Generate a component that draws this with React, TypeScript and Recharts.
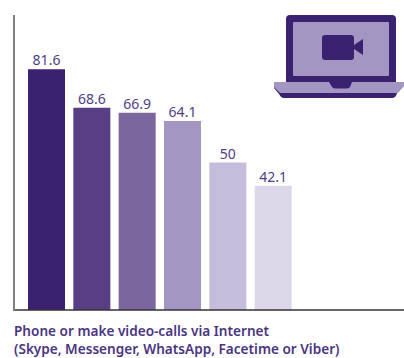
import React from "react"
import { BarChart, Bar, Cell, XAxis, YAxis, ReferenceLine, LabelList } from "recharts"

const categories = ["A", "B", "C", "D", "E", "F"]
const values = [81.6, 68.6, 66.9, 64.1, 50, 42.1]
const barColors = ["#3a2270", "#573e85", "#7b669e", "#a396c2", "#c5bddc", "#dcd8ea"]
const captionLines = [
  "Phone or make video-calls via Internet",
  "(Skype, Messenger, WhatsApp, Facetime or Viber)",
]

const chartData = categories.map((name, i) => ({ name, value: values[i] }))

function LaptopIcon() {
  return (
    <svg width={404} height={110} style={{ position: "absolute", left: 0, top: 0 }}>
      <rect x={286} y={15} width={110} height={72} rx={4} fill="#3a2270" />
      <rect x={293} y={22} width={96} height={54} rx={1} fill="#a396c2" />
      <path d="M274 82 H404 V85 L397 93 Q396 98 392 98 H284 Q281 98 279 94 L274 88 Z" fill="#3a2270" />
      <path d="M274 82 H329 L332 87 Q333 88.500 336 88.500 H346 Q349 88.500 350 87 L352 82 H404 V86 L398 93 H280 L274 87 Z" fill="#a396c2" />
      <rect x={322} y={35} width={32} height={25} rx={3} fill="#3a2270" />
      <path d="M354 45 L363 39 V55 L354 49 Z" fill="#3a2270" />
    </svg>
  )
}

export default function App() {
  return (
    <div style={{ position: "absolute", left: 0, top: 0, width: 404, height: 358, background: "#fff" }}>
      <BarChart
        width={404}
        height={320}
        data={chartData}
        margin={{ top: 15, right: 0, bottom: 10, left: 14 }}
      >
        <XAxis dataKey="name" hide padding={{ left: 10, right: 108 }} />
        <YAxis hide domain={[0, 100]} />
        <Bar dataKey="value" barSize={37} isAnimationActive={false}>
          {chartData.map((d, i) => (
            <Cell key={d.name} fill={barColors[i]} />
          ))}
          <LabelList
            dataKey="value"
            position="top"
            offset={4}
            style={{ fontFamily: "Noto Sans", fontSize: 14, fill: "#4f3d85" }}
          />
        </Bar>
        <ReferenceLine y={0} stroke="#333333" strokeWidth={1.5} />
      </BarChart>
      <div style={{ position: "absolute", left: 13, top: 15, width: 2, height: 296, background: "#808080" }} />
      <LaptopIcon />
      <div
        style={{
          position: "absolute",
          left: 14,
          top: 322,
          fontFamily: "Noto Sans",
          fontWeight: 600,
          fontSize: 13.6,
          lineHeight: "18px",
          color: "#4a3682",
          whiteSpace: "nowrap",
        }}
      >
        {captionLines.map((line) => (
          <div key={line}>{line}</div>
        ))}
      </div>
    </div>
  )
}
